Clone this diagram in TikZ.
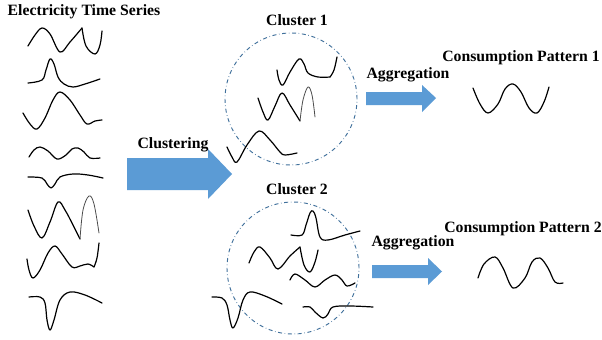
\documentclass[tikz,border=0pt]{standalone}
\usepackage{fontspec}
\setmainfont{Liberation Serif}
\definecolor{arrowblue}{RGB}{91,155,213}
\definecolor{circleblue}{RGB}{65,113,156}
\begin{document}
\begin{tikzpicture}[x=0.75pt,y=-0.75pt,
  lbl/.style={font=\fontsize{11.8}{14}\selectfont\bfseries, inner sep=0pt},
  wave/.style={line width=0.9pt, line cap=round, line join=round},
  thinwave/.style={line width=0.6pt, line cap=round, black!70},
  blockarrow/.style={fill=arrowblue, draw=none},
  clustercircle/.style={circle, draw=circleblue, dash dot, line width=0.7pt, inner sep=0pt, minimum size=99pt}]
\useasboundingbox (0,0) rectangle (602,339);
\fill[white] (0,0) rectangle (602,339);

% labels
\node[lbl] (ts) at (84,12) {Electricity Time Series};
\node[lbl] (cl1) at (297,20) {Cluster 1};
\node[lbl] (cl2) at (297,189) {Cluster 2};
\node[lbl] (clu) at (173,145) {Clustering};
\node[lbl] (ag1) at (408,75) {Aggregation};
\node[lbl] (ag2) at (413,243) {Aggregation};
\node[lbl] (cp1) at (521,58) {Consumption Pattern 1};
\node[lbl] (cp2) at (523,229) {Consumption Pattern 2};

% cluster circles
\node[clustercircle] (c1) at (291,99) {};
\node[clustercircle] (c2) at (293,268) {};

% block arrows
\fill[blockarrow] (127,158) -- (208,158) -- (208,149) -- (232,174) -- (208,199) -- (208,190) -- (127,190) -- cycle;
\fill[blockarrow] (366,92) -- (422,92) -- (422,85) -- (436,98) -- (422,112) -- (422,105) -- (366,105) -- cycle;
\fill[blockarrow] (372,265) -- (428,265) -- (428,258) -- (442,271.5) -- (428,285) -- (428,278) -- (372,278) -- cycle;

% left column series
\draw[wave] plot[smooth, tension=0.6] coordinates {(28,46) (35,35) (42,28) (50,34) (60,52) (70,42) (82,28)};
\draw[wave] plot[smooth, tension=0.6] coordinates {(82,28) (86,46) (95,54) (100,45) (102,31)};
\draw[wave] plot[smooth, tension=0.6] coordinates {(28,83) (42,80) (46,70) (50,59) (54,64) (58,77) (64,84) (73,87) (85,84) (100,79)};
\draw[wave] plot[smooth, tension=0.6] coordinates {(23,113) (30,124) (37,129) (45,118) (53,100) (60,92) (70,100) (80,115) (87,124) (95,121) (102,120)};
\draw[wave] plot[smooth, tension=0.6] coordinates {(29,157) (34,150) (40,147) (48,151) (57,159) (66,155) (72,149) (78,148) (84,152) (90,158) (100,158)};
\draw[wave] plot[smooth, tension=0.6] coordinates {(28,177) (42,178) (47,184) (51,188) (55,184) (60,177) (73,174) (88,175) (103,178)};
\draw[wave] plot[smooth, tension=0.6] coordinates {(28,210) (34,226) (42,238) (50,222) (58,202) (65,210) (73,225) (80,239)};
\draw[thinwave] plot[smooth, tension=0.6] coordinates {(80,239) (83,210) (89,196) (94,204) (99,233)};
\draw[wave] plot[smooth, tension=0.6] coordinates {(27,259) (29,270) (33,278) (40,270) (48,253) (55,246) (62,254) (72,267) (80,266) (88,264) (94,267)};
\draw[wave] plot[smooth, tension=0.6] coordinates {(94,267) (97,258) (99,243)};
\draw[wave] plot[smooth, tension=0.6] coordinates {(29,297) (40,297) (45,303) (47,320) (50,330) (54,320) (60,300) (70,292) (85,295) (102,303)};

% cluster 1 series
\draw[wave] plot[smooth, tension=0.6] coordinates {(277,70) (279,80) (283,85) (290,72) (299,59) (304,64) (308,73) (318,77) (330,77)};
\draw[wave] plot[smooth, tension=0.6] coordinates {(330,77) (334,70) (337,57)};
\draw[wave] plot[smooth, tension=0.6] coordinates {(258,98) (263,112) (268,120) (275,106) (282,93) (290,105) (300,121)};
\draw[thinwave] plot[smooth, tension=0.6] coordinates {(300,121) (303,100) (308,87) (312,95) (315,117)};
\draw[wave] plot[smooth, tension=0.6] coordinates {(227,147) (232,157) (237,162) (247,145) (259,131) (270,140) (280,152) (285,155) (297,153)};

% cluster 2 series
\draw[wave] plot[smooth, tension=0.6] coordinates {(291,235) (302,235) (306,225) (310,213) (313,211) (316,218) (320,237) (328,240) (345,235) (360,231)};
\draw[wave] plot[smooth, tension=0.6] coordinates {(249,263) (254,252) (260,247) (270,258) (278,269) (290,256) (300,247)};
\draw[wave] plot[smooth, tension=0.6] coordinates {(300,247) (304,265) (310,272) (315,262) (318,250)};
\draw[wave] plot[smooth, tension=0.6] coordinates {(290,280) (295,274) (305,280) (315,287) (325,280) (335,275) (342,280) (347,286) (355,283)};
\draw[wave] plot[smooth, tension=0.6] coordinates {(212,297) (222,298) (227,305) (230,320) (233,328) (238,318) (243,300) (250,292) (265,296) (282,304)};
\draw[wave] plot[smooth, tension=0.6] coordinates {(303,307) (310,307) (315,312) (323,318) (328,314) (333,307) (350,306) (373,307)};

% consumption patterns
\draw[wave] plot[smooth, tension=0.6] coordinates {(473,88) (480,104) (488,113) (498,104) (505,89) (513,84) (521,92) (529,108) (537,113) (544,102) (549,87)};
\draw[wave] plot[smooth, tension=0.6] coordinates {(478,278) (484,264) (495,257) (503,268) (513,288) (525,278) (532,262) (540,258) (548,268) (555,282) (563,283)};
\end{tikzpicture}
\end{document}
